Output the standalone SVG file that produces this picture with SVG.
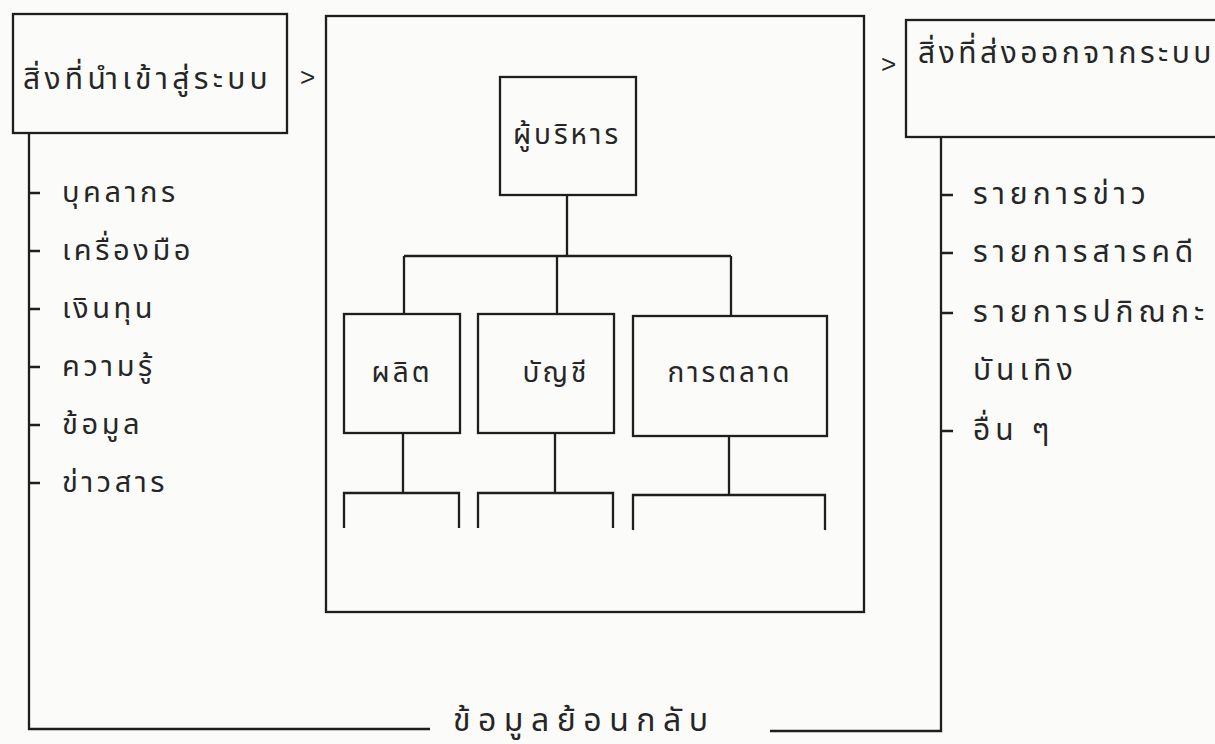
<svg xmlns="http://www.w3.org/2000/svg" width="1215" height="744" viewBox="0 0 1215 744">
<style>
.box{fill:none;stroke:#1e1e1e;stroke-width:2.3}
.ln{fill:none;stroke:#1e1e1e;stroke-width:2.3}
text{font-family:"Noto Sans Thai","Loma","Garuda","Noto Sans","DejaVu Sans",sans-serif;font-size:28px;fill:#262626;letter-spacing:3px}
.mid{text-anchor:middle}
.hd{font-size:30px;letter-spacing:4.3px}
.hd2{font-size:30px;letter-spacing:3.5px}
.li{font-size:29px;letter-spacing:3.6px}
.ro{font-size:30px;letter-spacing:5px}
.fb{font-size:32px;letter-spacing:7.5px}
.gt{font-family:"Liberation Sans",sans-serif;font-size:26px;letter-spacing:0}
</style>
<rect width="1215" height="744" fill="#fbfbfa"/>
<g id="input">
<rect class="box" x="13" y="14" width="274" height="119"/>
<text class="hd" x="23" y="89">สิ่งที่นำเข้าสู่ระบบ</text>
</g>
<g id="output">
<rect class="box" x="906" y="20" width="320" height="117"/>
<text class="hd2" x="918" y="63">สิ่งที่ส่งออกจากระบบ</text>
</g>
<g id="system">
<rect class="box" x="326" y="16" width="538" height="596"/>
</g>
<g id="exec">
<rect class="box" x="500" y="77" width="136" height="118"/>
<text class="mid" x="567" y="144">ผู้บริหาร</text>
</g>
<g id="prod">
<rect class="box" x="344" y="314" width="116" height="119"/>
<text class="mid" x="402" y="382">ผลิต</text>
</g>
<g id="acct">
<rect class="box" x="478" y="314" width="136" height="119"/>
<text class="mid" x="556" y="382">บัญชี</text>
</g>
<g id="mkt">
<rect class="box" x="633" y="316" width="194" height="120"/>
<text class="mid" x="730" y="382">การตลาด</text>
</g>
<g id="input-list">
<text class="li" x="62" y="202">บุคลากร</text>
<text class="li" x="62" y="260">เครื่องมือ</text>
<text class="li" x="62" y="318">เงินทุน</text>
<text class="li" x="62" y="376">ความรู้</text>
<text class="li" x="62" y="434">ข้อมูล</text>
<text class="li" x="62" y="492">ข่าวสาร</text>
</g>
<g id="output-list">
<text class="ro" x="973" y="204">รายการข่าว</text>
<text class="ro" x="973" y="262">รายการสารคดี</text>
<text class="ro" x="973" y="322">รายการปกิณกะ</text>
<text class="ro" x="973" y="380">บันเทิง</text>
<text class="ro" x="973" y="440">อื่น ๆ</text>
</g>
<g id="feedback">
<text class="fb" x="453" y="731">ข้อมูลย้อนกลับ</text>
</g>
<g id="connectors">
<text class="gt" x="300" y="86">&gt;</text>
<text class="gt" x="881" y="73">&gt;</text>
<path class="ln" d="M29 133V729H430"/>
<path class="ln" d="M770 731H941V137"/>
<path class="ln" d="M29 193H40M29 251H40M29 309H40M29 367H40M29 425H40M29 483H40"/>
<path class="ln" d="M942 195H953M942 253H953M942 313H953M942 431H953"/>
<path class="ln" d="M567 195V256M404 256H731M404 256V314M557 256V314M731 256V316"/>
<path class="ln" d="M403 433V493M344 528V493H459V528"/>
<path class="ln" d="M555 433V493M478 528V493H613V528"/>
<path class="ln" d="M729 436V495M633 530V495H825V530"/>
</g>
</svg>
